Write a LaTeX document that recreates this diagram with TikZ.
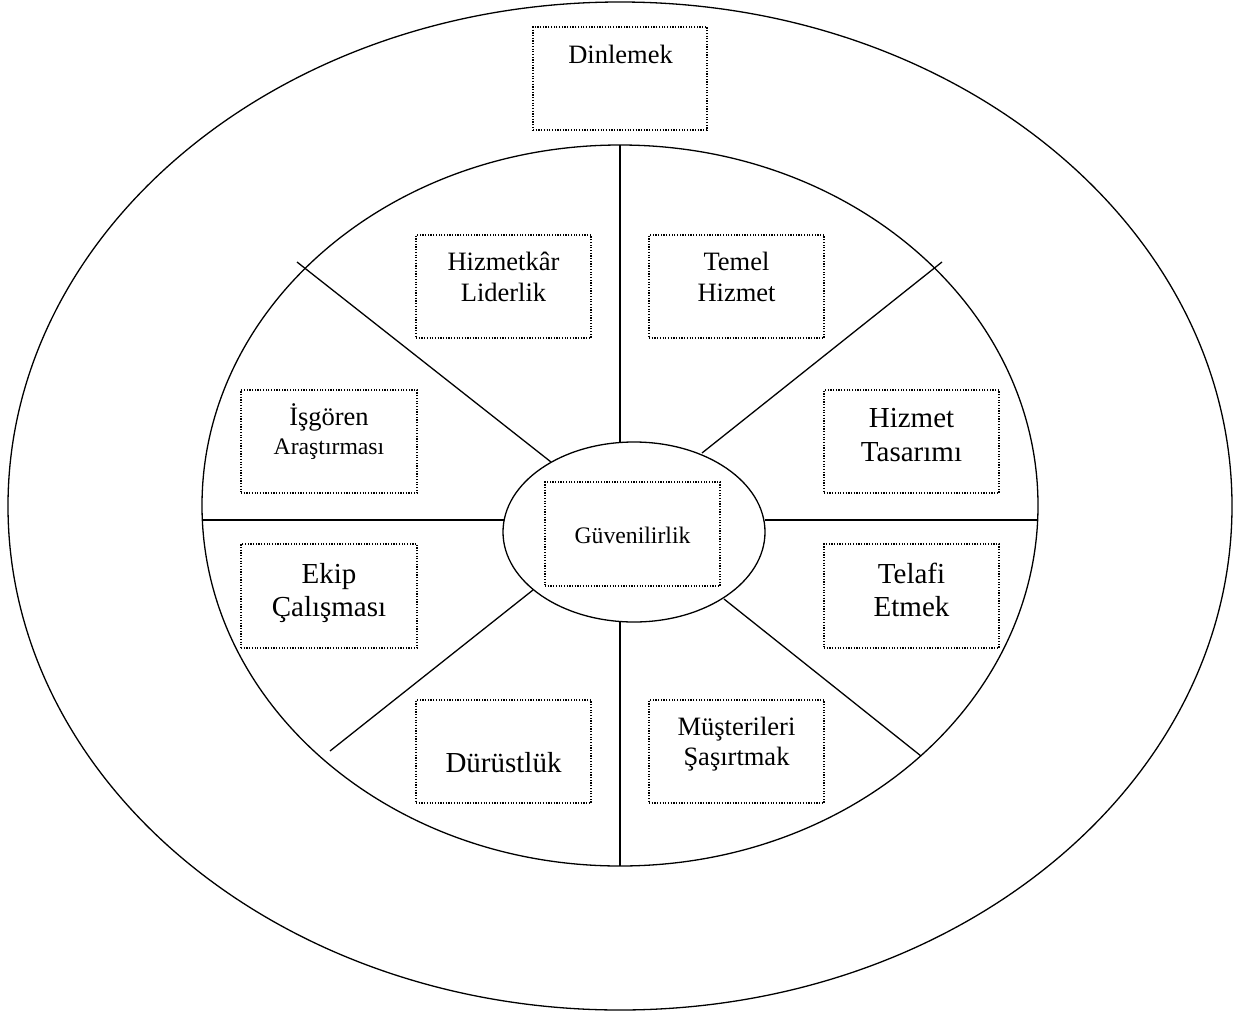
\documentclass[tikz,border=0pt]{standalone}
\usepackage{fontspec}
\setmainfont{Liberation Serif}
\usetikzlibrary{shapes.geometric}

% two centred lines whose baseline is that of the first line
\newcommand{\twoline}[2]{\begin{tabular}[t]{@{}c@{}}#1\\#2\end{tabular}}

\begin{document}
\begin{tikzpicture}[x=1pt,y=-1pt,
  ring/.style={draw, ellipse, inner sep=0pt, line width=1.3pt},
  spoke/.style={line width=1.3pt},
  tag/.style={draw, dash pattern=on 1.2pt off 1.5pt, line width=1.1pt,
              minimum width=175pt, minimum height=103pt, inner sep=0pt},
  lbl/.style={anchor=base, inner sep=0pt},
  big/.style={font=\fontsize{29}{33.6}\selectfont},
  mid/.style={font=\fontsize{26.5}{31.7}\selectfont},
  sml/.style={font=\fontsize{23.7}{28}\selectfont}]

\fill[white] (0,0) rectangle (1243,1012);
\useasboundingbox (0,0) rectangle (1243,1012);

% the three rings
\node[ring, minimum width=1224pt, minimum height=1008pt] (outer) at (620,506) {};
\node[ring, minimum width=836pt, minimum height=721pt] (inner) at (620,505.5) {};
\node[ring, fill=white, minimum width=262pt, minimum height=180pt] (hub) at (634,532) {};

% spoke end points
\coordinate (n1) at (620,145);  \coordinate (n2) at (620,442);
\coordinate (s1) at (620,622);  \coordinate (s2) at (620,866);
\coordinate (w1) at (202,520);  \coordinate (w2) at (503.5,520);
\coordinate (e1) at (765,520);  \coordinate (e2) at (1038,520);
\coordinate (nw1) at (297,262); \coordinate (nw2) at (551,462);
\coordinate (ne1) at (942,262); \coordinate (ne2) at (702,453);
\coordinate (sw1) at (330,751); \coordinate (sw2) at (533,590);
\coordinate (se1) at (724,599); \coordinate (se2) at (921,756);

\draw[spoke] (n1) -- (n2);
\draw[spoke] (s1) -- (s2);
\draw[spoke] (w1) -- (w2);
\draw[spoke] (e1) -- (e2);
\draw[spoke] (nw1) -- (nw2);
\draw[spoke] (ne1) -- (ne2);
\draw[spoke] (sw1) -- (sw2);
\draw[spoke] (se1) -- (se2);

% dotted boxes
\node[tag, minimum width=174pt] (dinle) at (620,78.5) {};
\node[tag] (lider) at (503.5,286.5) {};
\node[tag] (temel) at (736.5,286.5) {};
\node[tag, minimum width=176pt] (isgor) at (329,441.5) {};
\node[tag] (tasar) at (911.5,441.5) {};
\node[tag, minimum height=104pt] (guven) at (632.5,534) {};
\node[tag, minimum width=176pt, minimum height=104pt] (ekip) at (329,596) {};
\node[tag, minimum height=104pt] (telafi) at (911.5,596) {};
\node[tag] (durust) at (503.5,751.5) {};
\node[tag] (sasirt) at (736.5,751.5) {};

% box texts
\node[lbl, mid] (t-dinle) at (620.5,63.3) {Dinlemek};
\node[lbl, mid] (t-lider) at (503.5,270) {\twoline{Hizmetkâr}{Liderlik}};
\node[lbl, mid] (t-temel) at (736.5,270) {\twoline{Temel}{Hizmet}};
\node[lbl, font=\fontsize{26.5}{29}\selectfont] (t-isgor) at (329,425.5)
  {\twoline{İşgören}{\fontsize{23.7}{28}\selectfont Araştırması}};
\node[lbl, font=\fontsize{29}{34}\selectfont] (t-tasar) at (911.5,427.7) {\twoline{Hizmet}{Tasarımı}};
\node[lbl, sml] (t-guven) at (632.5,543.3) {Güvenilirlik};
\node[lbl, big] (t-ekip) at (329,583.3) {\twoline{Ekip}{Çalışması}};
\node[lbl, big] (t-telafi) at (911.5,583.3) {\twoline{Telafi}{Etmek}};
\node[lbl, big] (t-durust) at (503.5,772.3) {Dürüstlük};
\node[lbl, font=\fontsize{26.5}{30.7}\selectfont] (t-sasirt) at (736.5,735) {\twoline{Müşterileri}{Şaşırtmak}};

\end{tikzpicture}
\end{document}
